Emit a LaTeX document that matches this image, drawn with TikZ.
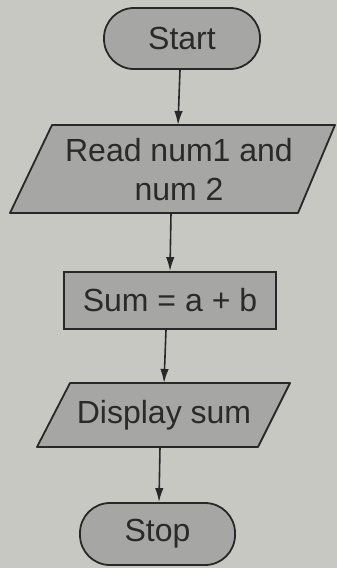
\documentclass[tikz,border=0pt]{standalone}
\usepackage{fontspec}
\setmainfont{Liberation Sans}
\usetikzlibrary{arrows.meta}
\definecolor{bg}{RGB}{200,200,195}
\definecolor{boxfill}{RGB}{166,166,164}
\definecolor{ink}{RGB}{40,40,40}
\definecolor{txtc}{RGB}{42,42,42}
\begin{document}
\begin{tikzpicture}[x=1pt,y=-1pt,
  lbl/.style={font=\fontsize{32}{39}\selectfont, text=txtc, inner sep=0pt, align=center},
  term/.style={lbl, draw=ink, fill=boxfill, line width=1.8pt, rounded corners=30pt, minimum width=156pt, minimum height=61pt},
  proc/.style={lbl, draw=ink, fill=boxfill, line width=1.8pt, minimum width=212pt, minimum height=57pt},
  io/.style={draw=ink, fill=boxfill, line width=1.8pt, line join=round},
  arr/.style={draw=ink, line width=1.6pt, -{Latex[length=14pt,width=8.5pt]}}]
\fill[bg] (0,0) rectangle (337,568);
\useasboundingbox (0,0) rectangle (337,568);
% Start
\node[term] (start) at (182,38.5) {Start};
% Read
\path[io] (52,125) -- (335,125) -- (298,213) -- (10,213) -- cycle;
\node[lbl] (read) at (179,170) {Read num1 and\\num 2};
\coordinate (readT) at (178,125);
\coordinate (readB) at (171,213);
% Sum
\node[proc] (sum) at (170,300.5) {Sum = a + b};
% Display
\path[io] (70,383) -- (290,383) -- (258,447) -- (37,447) -- cycle;
\node[lbl] (disp) at (164,415) {Display sum};
\coordinate (dispT) at (164,383);
\coordinate (dispB) at (160,447);
% Stop
\node[term, minimum width=155pt, minimum height=62pt] (stop) at (157.5,534) {Stop};
% arrows
\draw[arr] ([xshift=-2pt]start.south) -- (readT);
\draw[arr] (readB) -- (sum.north);
\draw[arr] ([xshift=-4pt]sum.south) -- (dispT);
\draw[arr] (dispB) -- ([xshift=1.5pt]stop.north);
\end{tikzpicture}
\end{document}
